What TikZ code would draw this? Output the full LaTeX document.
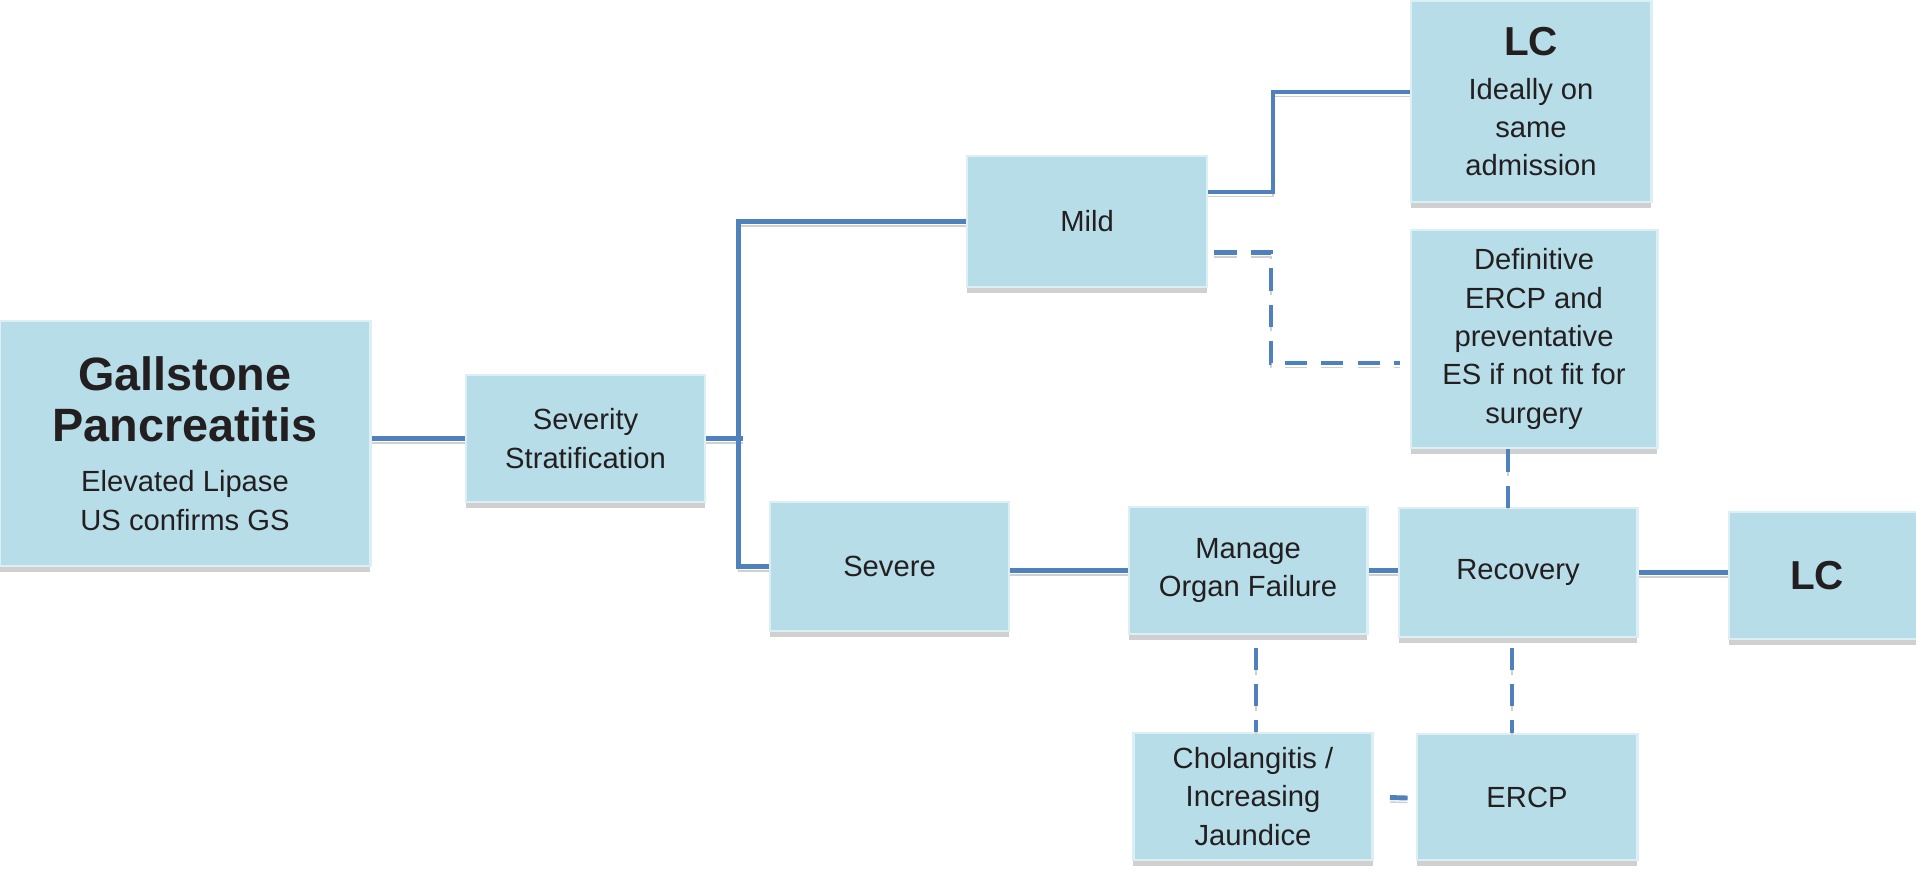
\documentclass[tikz,border=0pt]{standalone}
\usepackage{fontspec}
\setmainfont{Liberation Sans}
\usetikzlibrary{calc,shadows}

\definecolor{boxfill}{HTML}{B7DDE8}
\definecolor{boxedge}{HTML}{DCEFF4}
\definecolor{linkblue}{HTML}{4F81BD}
\definecolor{shadowgray}{HTML}{D0D0D0}
\definecolor{textcol}{HTML}{231F20}

\newcommand{\bigbold}{\fontsize{13.3}{14}\selectfont\bfseries}
\newcommand{\lcfont}{\fontsize{11.5}{12}\selectfont\bfseries}

\begin{document}
\begin{tikzpicture}[x=0.01cm,y=-0.01cm,
    box/.style={rectangle, draw=boxedge, line width=0.8pt, fill=boxfill,
        text=textcol, align=center, inner sep=0pt,
        font=\fontsize{8.3}{10.9}\selectfont,
        drop shadow={shadow xshift=0cm, shadow yshift=-0.06cm,
            fill=shadowgray, opacity=1}},
    link/.style={draw=linkblue, line width=1.4pt,
        preaction={draw=shadowgray, transform canvas={yshift=-0.045cm}}},
    dlink/.style={draw=linkblue, line width=1.4pt, dash pattern=on 6.3pt off 4pt,
        preaction={draw=shadowgray, dash pattern=on 6.3pt off 4pt,
            transform canvas={yshift=-0.045cm}}}]
    \useasboundingbox (0,0) rectangle (1916,869);

    % Boxes
    \node[box, minimum width=3.7cm, minimum height=2.45cm] (gall) at (185,443.5)
        {{\bigbold Gallstone}\\[3.6pt]{\bigbold Pancreatitis}\\[3.5pt]Elevated Lipase\\US confirms GS};
    \node[box, minimum width=2.39cm, minimum height=1.27cm] (sev) at (585.5,438.5) {Severity\\Stratification};
    \node[box, minimum width=2.4cm, minimum height=1.31cm] (mild) at (1087,221.5) {Mild};
    \node[box, minimum width=2.39cm, minimum height=1.29cm] (severe) at (889.5,566.5) {Severe};
    \node[box, minimum width=2.4cm, minimum height=2.01cm] (lcTop) at (1531,101.5)
        {{\lcfont LC}\\[1.7pt]Ideally on\\same\\admission};
    \node[box, minimum width=2.46cm, minimum height=2.18cm] (defin) at (1534,339)
        {Definitive\\ERCP and\\preventative\\ES if not fit for\\surgery};
    \node[box, minimum width=2.38cm, minimum height=1.27cm] (manage) at (1248,570.5) {Manage\\Organ Failure};
    \node[box, minimum width=2.38cm, minimum height=1.29cm] (recov) at (1518,572.5) {Recovery};
    \node[box, minimum width=1.91cm, minimum height=1.27cm] (lcBot) at (1824.5,575.5) {\lcfont LC\hspace*{0.15cm}};
    \node[box, minimum width=2.39cm, minimum height=1.27cm] (chol) at (1253,796.5) {Cholangitis /\\Increasing\\Jaundice};
    \node[box, minimum width=2.2cm, minimum height=1.26cm] (ercp) at (1527,797) {ERCP};

    % Knees of the connectors
    \coordinate (split) at (738.5,440);
    \coordinate (upKnee) at (1273,92);
    \coordinate (dashKnee) at (1271,363);
    \coordinate (recTop) at (1508,508);
    \coordinate (mcTop) at (1256,648);
    \coordinate (reBot) at (1512,648);

    % Connections
    \draw[link] (sev.west -| gall.east) -- (sev.west);
    \draw[link] (sev.east) -- ($(split |- sev.east)+(4,0)$);
    \draw[link] (mild.west) -- (mild.west -| split) -- (severe.west -| split) -- (severe.west);
    \draw[link] ([yshift=0.295cm]mild.east) -| (upKnee) -- (upKnee -| lcTop.west);
    \draw[dlink] ($(mild.east)+(6,31)$) -| (dashKnee) -- ($(dashKnee -| defin.west)+(-10,0)$);
    \draw[link] (manage.west -| severe.east) -- (manage.west);
    \draw[link] (manage.east) -- (manage.east -| recov.west);
    \draw[link] (recov.east) -- (recov.east -| lcBot.west);

    % Dashed links below
    \draw[dlink] (recTop |- defin.south) -- (recTop);
    \draw[dlink] (mcTop) -- (mcTop |- chol.north);
    \draw[dlink] (reBot) -- (reBot |- ercp.north);
    \draw[dlink] ($(chol.east)+(16,1)$) -- ($(ercp.west)+(-8,1)$);
\end{tikzpicture}
\end{document}
